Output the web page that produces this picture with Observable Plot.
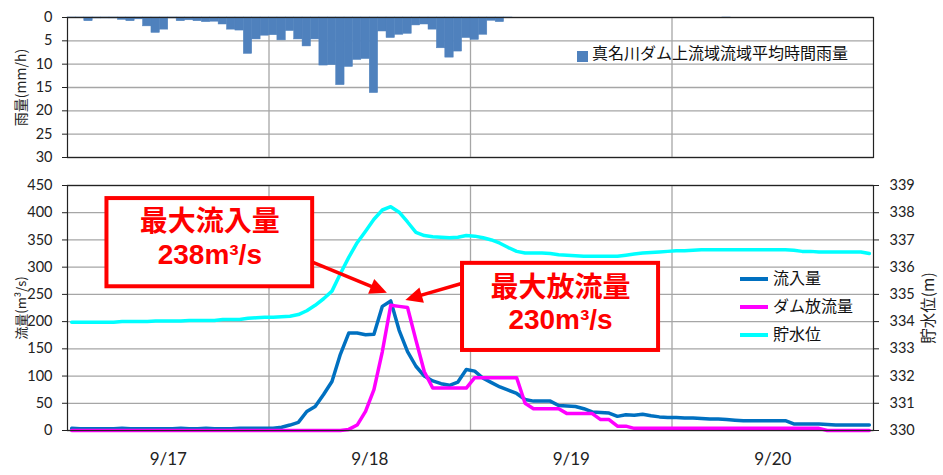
<!DOCTYPE html>
<html><head><meta charset="utf-8">
<script src="https://cdn.jsdelivr.net/npm/d3@7"></script>
<script src="https://cdn.jsdelivr.net/npm/@observablehq/plot@0.6"></script>
<style>
body{margin:0;background:#fff;}
#wrap{position:relative;width:943px;height:475px;}
#wrap svg{display:block;}
.lg{position:absolute;font-family:"Noto Sans CJK JP",sans-serif;font-size:16px;color:#111;white-space:nowrap;line-height:16px;}
</style></head><body>
<div id="wrap"></div>
<script>
// ---------- data ----------
const dayLabels = ["9/17","9/18","9/19","9/20"];
const dayCenters = [12, 36, 60, 84];      // hour index of each day label
const dayBounds = [24, 48, 72];           // day boundaries (hours)
const rainName = "真名川ダム上流域流域平均時間雨量";
const seriesNames = ["流入量","ダム放流量","貯水位"];
const rainAxisLabel = "雨量(mm/h)";
const flowAxisLabel = "流量(m³/s)";
const levelAxisLabel = "貯水位(m)";

// hourly rainfall (mm/h), 9/17 0:00 - 9/20 24:00
const rain = [
 0.1,0.1,0.8,0.2,0.2,0.2,0.5,0.8,0.4,1.9,3.3,2.6,0.2,0.8,0.6,0.8,1.0,0.9,1.5,2.6,2.8,7.8,4.7,3.9,
 3.8,4.9,2.9,4.7,6.2,4.7,10.3,10.2,14.5,10.6,9.1,8.9,16.2,3.0,4.4,3.7,3.5,1.7,1.5,2.6,6.6,8.6,7.3,4.4,
 4.8,3.7,0.7,1.0,0.1,0,0,0,0,0,0,0,0,0,0,0,0,0,0,0,0,0,0,0,
 0,0,0,0,0,0,0.1,0,0,0,0,0,0,0,0,0,0,0,0,0,0,0,0,0];
// inflow (m3/s)
const inflow = [
 4,3,3,3,3,3,4,3,3,3,3,3,3,4,3,3,4,3,3,3,4,4,4,4,
 4,6,10,15,35,44,66,90,140,179,179,176,177,228,238,184,145,118,100,91,86,83,89,112,
 109,96,88,80,74,68,57,54,54,54,46,45,44,40,34,33,32,26,29,28,30,27,25,24,
 24,23,23,22,21,21,20,19,18,18,18,18,18,18,12,12,12,12,11,10,10,10,10,10];
// dam outflow (m3/s)
const outflow = [
 0,0,0,0,0,0,0,0,0,0,0,0,0,0,0,0,0,0,0,0,0,0,0,0,
 0,0,0,0,0,0,0,0,0,2,10,35,75,145,230,228,226,166,108,78,78,78,78,78,
 97,97,97,97,97,97,50,40,40,40,40,31,31,31,31,20,20,8,8,4,4,4,4,4,
 4,4,4,4,4,4,4,4,4,4,4,4,4,4,4,4,4,4,0,0,0,0,0,0];
// reservoir level (m)
const level = [
 333.98,333.98,333.98,333.98,333.98,333.98,334.00,334.00,334.00,334.00,334.02,334.02,334.02,334.02,334.04,334.04,334.04,334.04,334.08,334.08,334.08,334.12,334.14,334.16,
 334.16,334.18,334.20,334.26,334.40,334.60,334.84,335.12,335.76,336.36,336.90,337.32,337.76,338.10,338.22,338.02,337.66,337.28,337.16,337.12,337.10,337.08,337.10,337.16,
 337.14,337.08,337.00,336.88,336.72,336.58,336.52,336.52,336.52,336.50,336.46,336.44,336.42,336.40,336.40,336.40,336.40,336.40,336.44,336.48,336.52,336.54,336.56,336.58,
 336.60,336.60,336.62,336.64,336.64,336.64,336.64,336.64,336.64,336.64,336.64,336.64,336.64,336.64,336.62,336.58,336.58,336.56,336.56,336.56,336.56,336.56,336.56,336.50];

const calloutTitles = ["最大流入量","最大放流量"];
const calloutValues = ["238m³/s","230m³/s"];

// ---------- annotation placement (data units: hours / m3/s) ----------
const calloutBoxes = [
  {x1: 4.7, x2: 29.2, y1: 264, y2: 426, ty: 382, vy: 322},
  {x1: 47.05, x2: 70.4, y1: 147, y2: 307, ty: 262, vy: 203}
];
const arrowsPos = [
  {x1: 29.3, y1: 308, x2: 38.1, y2: 252},
  {x1: 47.2, y1: 270, x2: 40.3, y2: 239}
];

// ---------- build tables ----------
const hours = d3.range(rain.length);
const table = hours.map(h => ({h, rain: rain[h], inflow: inflow[h], outflow: outflow[h], level: level[h]}));
const callouts = calloutBoxes.map((b, i) => ({...b, title: calloutTitles[i], value: calloutValues[i]}));

const W = 943, ML = 67, MR = 70;
const colors = {rain: "#4F81BD", inflow: "#0070C0", outflow: "#FF00FF", level: "#00FFFF"};
const gridStyle = {stroke: "#a6a6a6", strokeOpacity: 1, strokeWidth: 1.3};
const CJK = "'Noto Sans CJK JP', sans-serif";
const NUM = "Lato, 'Noto Sans CJK JP', sans-serif";

const wrap = document.getElementById("wrap");

// ---------- top: rainfall ----------
const rainChart = Plot.plot({
  width: W, height: 170, marginLeft: ML, marginRight: MR, marginTop: 17, marginBottom: 13,
  style: {fontFamily: NUM, color: "#222", background: "white"},
  x: {domain: [0, 96], axis: null},
  y: {domain: [0, 30], reverse: true, axis: null},
  marks: [
    Plot.gridY({ticks: d3.range(0, 31, 5), ...gridStyle}),
    Plot.gridX({ticks: dayBounds, ...gridStyle}),
    Plot.rectY(table, {x1: "h", x2: d => d.h + 1, y: "rain", fill: colors.rain, stroke: colors.rain, strokeWidth: 0.5}),
    Plot.axisY({ticks: d3.range(0, 31, 5), tickSize: 5, tickPadding: 10, fontSize: 14.5, label: null}),
    Plot.frame({stroke: "#222", strokeWidth: 1.2}),
    Plot.text([rainAxisLabel], {frameAnchor: "left", dx: -46, rotate: -90, textAnchor: "middle", fontSize: 14, fontFamily: CJK, fill: "#222"})
  ]
});

// ---------- bottom: flows & level ----------
const arrowMark = (index, {x, y}) => {
  const g = d3.create("svg:g");
  for (const a of arrowsPos) {
    const X1 = x(a.x1), Y1 = y(a.y1), X2 = x(a.x2), Y2 = y(a.y2);
    const ang = Math.atan2(Y2 - Y1, X2 - X1);
    const hl = 17, hw = 8;
    const bx = X2 - hl * Math.cos(ang), by = Y2 - hl * Math.sin(ang);
    g.append("line").attr("x1", X1).attr("y1", Y1).attr("x2", bx + 2 * Math.cos(ang)).attr("y2", by + 2 * Math.sin(ang))
      .attr("stroke", "#FF0000").attr("stroke-width", 3.5);
    g.append("polygon")
      .attr("points", [[X2, Y2], [bx + hw * Math.sin(ang), by - hw * Math.cos(ang)], [bx - hw * Math.sin(ang), by + hw * Math.cos(ang)]].map(p => p.join(",")).join(" "))
      .attr("fill", "#FF0000");
  }
  return g.node();
};

const flowChart = Plot.plot({
  width: W, height: 305, marginLeft: ML, marginRight: MR, marginTop: 15, marginBottom: 45,
  style: {fontFamily: NUM, color: "#222", background: "white"},
  x: {domain: [0, 96], axis: null},
  y: {domain: [0, 450], axis: null},
  marks: [
    Plot.gridY({ticks: d3.range(0, 451, 50), ...gridStyle}),
    Plot.gridX({ticks: dayBounds, ...gridStyle}),
    Plot.line(table, {x: d => d.h + 0.5, y: "inflow", stroke: colors.inflow, strokeWidth: 3.5}),
    Plot.line(table, {x: d => d.h + 0.5, y: "outflow", stroke: colors.outflow, strokeWidth: 3.5}),
    // secondary axis 330-339 m maps linearly onto 0-450
    Plot.line(table, {x: d => d.h + 0.5, y: d => (d.level - 330) * 50, stroke: colors.level, strokeWidth: 3.5}),
    Plot.axisY({ticks: d3.range(0, 451, 50), tickSize: 5, tickPadding: 10, fontSize: 14.5, label: null}),
    Plot.axisY({anchor: "right", ticks: d3.range(0, 451, 50), tickFormat: d => 330 + d / 50, tickSize: 5, tickPadding: 11, fontSize: 14.5, label: null}),
    Plot.axisX({ticks: dayCenters, tickFormat: d => dayLabels[dayCenters.indexOf(d)], tickSize: 0, tickPadding: 22, fontSize: 17, label: null}),
    Plot.frame({stroke: "#222", strokeWidth: 1.2}),
    Plot.rect(callouts, {x1: "x1", x2: "x2", y1: "y1", y2: "y2", fill: "white", stroke: "#FF0000", strokeWidth: 4}),
    Plot.text(callouts, {x: d => (d.x1 + d.x2) / 2, y: "ty", text: "title", fill: "#FF0000", fontWeight: "bold", fontSize: 28, fontFamily: CJK}),
    Plot.text(callouts, {x: d => (d.x1 + d.x2) / 2, y: "vy", text: "value", fill: "#FF0000", fontWeight: "bold", fontSize: 28, fontFamily: "'Liberation Sans', Arial, sans-serif"}),
    arrowMark,
    Plot.text([flowAxisLabel], {frameAnchor: "left", dx: -46, rotate: -90, textAnchor: "middle", fontSize: 13, fontFamily: CJK, fill: "#222"}),
    Plot.text([levelAxisLabel], {frameAnchor: "right", dx: 56, rotate: -90, textAnchor: "middle", fontSize: 15.5, fontFamily: CJK, fill: "#222"})
  ]
});

wrap.appendChild(rainChart);
wrap.appendChild(flowChart);

// ---------- legends ----------
const lg1 = document.createElement("div");
lg1.className = "lg";
lg1.style.left = "577px"; lg1.style.top = "44px";
lg1.innerHTML = `<span style="display:inline-block;width:11px;height:11px;background:${colors.rain};margin-right:4px;vertical-align:-3px"></span>${rainName}`;
wrap.appendChild(lg1);

const lgColors = [colors.inflow, colors.outflow, colors.level];
const lgY = [278, 306, 334];
seriesNames.forEach((name, i) => {
  const d = document.createElement("div");
  d.className = "lg";
  d.style.left = "740px"; d.style.top = (lgY[i] - 9) + "px";
  d.innerHTML = `<svg width="30" height="16" style="display:inline-block;vertical-align:-3px;margin-right:3px"><line x1="0" x2="28" y1="8" y2="8" stroke="${lgColors[i]}" stroke-width="4"/></svg>${name}`;
  wrap.appendChild(d);
});
</script>
</body></html>
